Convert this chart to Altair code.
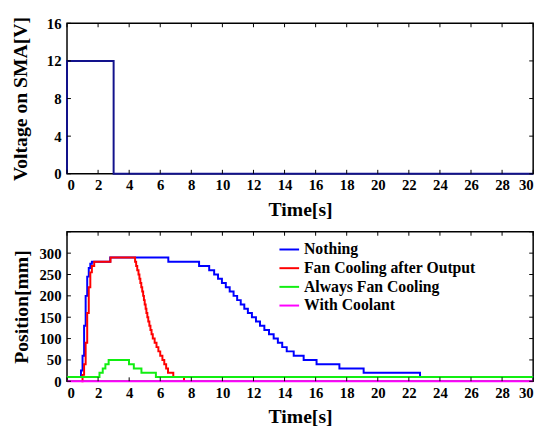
import altair as alt
import pandas as pd

# ---------------- data ----------------
volt_t = [0, 0, 3.0, 30]
volt_v = [0, 12, 0, 0]

series_names = ["Nothing", "Fan Cooling after Output", "Always Fan Cooling", "With Coolant"]
series_colors = ["#0000ff", "#ff0000", "#11ee11", "#ff00ff"]

nothing_t = [0.8, 0.9, 1.0, 1.1, 1.2, 1.3, 1.4, 1.5, 1.6, 2.78, 6.52, 8.5, 9.15, 9.47, 9.72,
             9.97, 10.22, 10.47, 10.72, 10.95, 11.18, 11.41, 11.64, 11.9, 12.16, 12.42, 12.7,
             13.0, 13.3, 13.57, 13.85, 14.14, 14.59, 15.23, 16.06, 17.53, 19.09, 22.72, 30]
nothing_v = [10, 25, 60, 130, 200, 245, 265, 275, 280, 290, 280, 270, 260, 250, 240,
             230, 220, 210, 200, 190, 180, 170, 160, 150, 140, 130, 120,
             110, 100, 90, 80, 70, 60, 50, 40, 30, 20, 10, 10]

fan_after_t = [0.93, 1.0, 1.1, 1.2, 1.3, 1.4, 1.5, 1.6, 1.75, 2.8, 4.38, 4.45, 4.52, 4.6,
               4.66, 4.72, 4.78, 4.84, 4.9, 4.95, 5.0, 5.06, 5.11, 5.17, 5.23, 5.3, 5.37,
               5.44, 5.52, 5.64, 5.76, 5.88, 6.0, 6.14, 6.26, 6.38, 6.5, 6.84, 7.53]
fan_after_v = [0, 15, 40, 90, 160, 220, 255, 270, 280, 290, 280, 270, 260, 250,
               240, 230, 220, 210, 200, 190, 180, 170, 160, 150, 140, 130, 120,
               110, 100, 90, 80, 70, 60, 50, 40, 30, 20, 10, 0]

always_fan_t = [0, 2.09, 2.3, 2.47, 2.68, 3.99, 4.3, 4.79, 5.72, 30]
always_fan_v = [10, 20, 30, 40, 50, 40, 30, 20, 10, 10]

coolant_t = [0, 30]
coolant_v = [0, 0]

x_ticks = list(range(0, 31, 2))
volt_ticks = [0, 4, 8, 12, 16]
pos_ticks = [0, 50, 100, 150, 200, 250, 300, 350]
pos_labels = [0, 50, 100, 150, 200, 250, 300]

# ---------------- build tables ----------------
volt_df = pd.DataFrame({"x": volt_t, "y": volt_v, "i": range(len(volt_t))})

rows = []
for name, ts, vs in zip(series_names,
                        [nothing_t, fan_after_t, always_fan_t, coolant_t],
                        [nothing_v, fan_after_v, always_fan_v, coolant_v]):
    for k, (t, v) in enumerate(zip(ts, vs)):
        rows.append({"x": t, "y": v, "i": k, "series": name})
pos_df = pd.DataFrame(rows)

FONT = "Liberation Serif"
W = 474
H1 = 153
H2 = 152
TL = 4

x_scale = alt.Scale(domain=[0, 30], nice=False)
x_axis = alt.Axis(values=x_ticks, title="Time[s]", format="d")


def inward_ticks(yt, h, y_scale, y_axis):
    xdf = pd.DataFrame({"x": x_ticks})
    ydf = pd.DataFrame({"y": yt})
    rule = dict(color="black", strokeWidth=1)
    X = alt.X("x:Q", scale=x_scale, axis=x_axis)
    Y = alt.Y("y:Q", scale=y_scale, axis=y_axis)
    xb = alt.Chart(xdf).mark_rule(**rule).encode(x=X, y=alt.value(h), y2=alt.value(h - TL))
    xt = alt.Chart(xdf).mark_rule(**rule).encode(x=X, y=alt.value(0), y2=alt.value(TL))
    yl = alt.Chart(ydf).mark_rule(**rule).encode(y=Y, x=alt.value(0), x2=alt.value(TL))
    yr = alt.Chart(ydf).mark_rule(**rule).encode(y=Y, x=alt.value(W), x2=alt.value(W - TL))
    return [xb, xt, yl, yr]


# ---------------- top chart ----------------
v_scale = alt.Scale(domain=[0, 16], nice=False)
v_axis = alt.Axis(values=volt_ticks, title="Voltage on SMA[V]", titlePadding=16)
volt_line = alt.Chart(volt_df).mark_line(
    color="#12128c", strokeWidth=2, interpolate="step-after").encode(
    x=alt.X("x:Q", scale=x_scale, axis=x_axis),
    y=alt.Y("y:Q", scale=v_scale, axis=v_axis),
    order="i:Q",
)
top = alt.layer(volt_line, *inward_ticks(volt_ticks, H1, v_scale, v_axis)).properties(
    width=W, height=H1)

# ---------------- bottom chart ----------------
p_scale = alt.Scale(domain=[0, 350], nice=False)
p_axis = alt.Axis(values=pos_labels, title="Position[mm]", titlePadding=8)
color_scale = alt.Scale(domain=series_names, range=series_colors)
legend = alt.Legend(
    orient="none", legendX=215, legendY=7, title=None,
    symbolType="stroke", symbolSize=400, symbolStrokeWidth=2,
    labelFont=FONT, labelFontSize=16, labelFontWeight="bold", labelColor="black",
    labelLimit=400, rowPadding=0, padding=0, labelOffset=4,
)

pos_layers = []
for name in series_names:
    pos_layers.append(
        alt.Chart(pos_df).transform_filter(alt.datum.series == name).mark_line(
            strokeWidth=2, interpolate="step-after").encode(
            x=alt.X("x:Q", scale=x_scale, axis=x_axis),
            y=alt.Y("y:Q", scale=p_scale, axis=p_axis),
            color=alt.Color("series:N", scale=color_scale, legend=legend),
            order="i:Q",
        )
    )

bottom = alt.layer(*pos_layers, *inward_ticks(pos_ticks, H2, p_scale, p_axis)).properties(
    width=W, height=H2)

chart = alt.vconcat(top, bottom, spacing=10).resolve_legend(
    color="independent"
).resolve_scale(
    color="independent"
).properties(
    padding={"left": 2, "top": 4, "right": 5, "bottom": 0}
).configure_view(
    stroke="black", strokeWidth=1.5
).configure_axis(
    domain=False, ticks=False, grid=False,
    labelFont=FONT, labelFontSize=15, labelFontWeight="bold", labelColor="black",
    labelPadding=6,
    titleFont=FONT, titleFontSize=20, titleFontWeight="bold", titleColor="black",
).configure_axisX(titlePadding=7, labelPadding=4)

chart.save("out.html", embed_options={"renderer": "svg", "actions": False})
